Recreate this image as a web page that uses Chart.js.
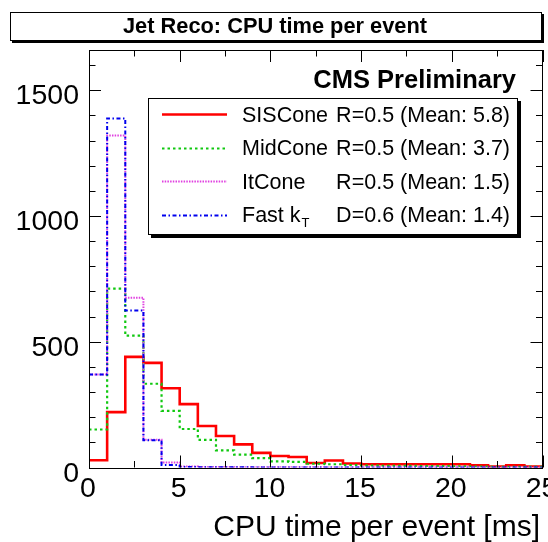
<!DOCTYPE html>
<html>
<head>
<meta charset="utf-8">
<title>Jet Reco: CPU time per event</title>
<script src="https://cdn.jsdelivr.net/npm/chart.js@4/dist/chart.umd.min.js"></script>
<style>
  html, body { margin: 0; padding: 0; background: #ffffff; }
  #wrap { width: 548px; height: 542px; }
</style>
</head>
<body>
<div id="wrap"><canvas id="cpu" width="548" height="542"></canvas></div>
<script>
// Histogram bins: 1 ms wide, lower edges from 0 to 24 ms
const binLowEdges = [0, 1, 2, 3, 4, 5, 6, 7, 8, 9, 10, 11, 12, 13, 14, 15, 16, 17, 18, 19, 20, 21, 22, 23, 24];
const xRange = [0, 25];
const yRange = [0, 1660];

// Entries per bin for each jet algorithm
const sisCone = [29, 220, 440, 416, 315, 252, 165, 125, 92, 58, 46, 42, 18, 28, 16, 13, 13, 13, 13, 13, 13, 9, 4, 9, 4];
const midCone = [151, 711, 524, 333, 225, 153, 110, 68, 51, 37, 24, 22, 15, 13, 10, 8, 7, 7, 6, 6, 5, 4, 3, 3, 3];
const itCone  = [370, 1320, 675, 110, 20, 4, 2, 2, 1, 1, 1, 1, 1, 0, 0, 0, 0, 0, 0, 0, 0, 0, 0, 0, 0];
const fastKt  = [370, 1388, 624, 108, 10, 2, 1, 1, 1, 0, 0, 0, 0, 0, 0, 0, 0, 0, 0, 0, 0, 0, 0, 0, 0];

// Axis tick labels
const xTickLabels = ['0', '5', '10', '15', '20', '25'];
const yTickLabels = ['0', '500', '1000', '1500'];

// Legend text
const algoNames  = ['SISCone', 'MidCone', 'ItCone', 'Fast k'];
const algoParams = ['R=0.5', 'R=0.5', 'R=0.5', 'D=0.6'];
const algoMeans  = ['5.8', '3.7', '1.5', '1.4'];

const titleText = 'Jet Reco: CPU time per event';
const xAxisTitle = 'CPU time per event [ms]';
const stampText = 'CMS Preliminary';

const FONT = "'Liberation Sans', Arial, Helvetica, sans-serif";

const styles = [
  { color: '#ff0000', width: 2.6, dash: [] },
  { color: '#10c810', width: 2.2, dash: [2.5, 3] },
  { color: '#e040e0', width: 2.0, dash: [1.5, 1.2] },
  { color: '#0000ee', width: 2.0, dash: [4, 2.5, 1.5, 2.5] }
];

// Step histogram points: one per lower edge plus the closing upper edge
function histPoints(values) {
  const pts = binLowEdges.map((x, i) => ({ x: x, y: values[i] }));
  pts.push({ x: xRange[1], y: values[values.length - 1] });
  return pts;
}

const seriesList = [sisCone, midCone, itCone, fastKt];

const datasets = seriesList.map((vals, i) => ({
  label: algoNames[i],
  data: histPoints(vals),
  stepped: 'before',
  borderColor: styles[i].color,
  borderWidth: styles[i].width,
  borderDash: styles[i].dash,
  pointRadius: 0,
  fill: false,
  tension: 0,
  order: 3 - i
}));

function shadowBox(ctx, x, y, w, h, off) {
  ctx.save();
  ctx.fillStyle = '#000000';
  ctx.fillRect(x + off, y + off, w, h);
  ctx.fillStyle = '#ffffff';
  ctx.fillRect(x, y, w, h);
  ctx.strokeStyle = '#000000';
  ctx.lineWidth = 1;
  ctx.strokeRect(x + 0.5, y + 0.5, w - 1, h - 1);
  ctx.restore();
}

// Frame, ticks, labels, title pave and legend in ROOT style
const rootDecor = {
  id: 'rootDecor',
  afterDraw(chart) {
    const ctx = chart.ctx;
    const area = chart.chartArea;
    const xs = chart.scales.x;
    const ys = chart.scales.y;

    ctx.save();
    // plot frame
    ctx.strokeStyle = '#000000';
    ctx.lineWidth = 1;
    ctx.strokeRect(Math.round(area.left) + 0.5, Math.round(area.top) + 0.5,
                   Math.round(area.right - area.left) - 1, Math.round(area.bottom - area.top));

    // x ticks every 2.5 ms, long on multiples of 5 (bottom and top)
    ctx.beginPath();
    for (let v = 0; v <= xRange[1] + 1e-6; v += 2.5) {
      const px = Math.round(xs.getPixelForValue(v)) + 0.5;
      const major = Math.abs(v / 5 - Math.round(v / 5)) < 1e-6;
      const len = major ? 12 : 6.5;
      ctx.moveTo(px, area.bottom);
      ctx.lineTo(px, area.bottom - len);
      ctx.moveTo(px, area.top);
      ctx.lineTo(px, area.top + len);
    }
    // y ticks every 100, long on multiples of 500 (left and right)
    for (let v = 0; v <= yRange[1]; v += 100) {
      const py = Math.round(ys.getPixelForValue(v)) + 0.5;
      const len = (v % 500 === 0) ? 12 : 6.5;
      ctx.moveTo(area.left, py);
      ctx.lineTo(area.left + len, py);
      ctx.moveTo(area.right, py);
      ctx.lineTo(area.right - len, py);
    }
    ctx.stroke();

    // tick labels
    ctx.fillStyle = '#000000';
    ctx.font = '28.5px ' + FONT;
    ctx.textAlign = 'right';
    ctx.textBaseline = 'alphabetic';
    yTickLabels.forEach(t => {
      const py = ys.getPixelForValue(Number(t));
      ctx.fillText(t, 79, py + 14);
    });
    ctx.textAlign = 'center';
    xTickLabels.forEach(t => {
      const px = xs.getPixelForValue(Number(t));
      ctx.fillText(t, px - 1, 497);
    });

    // x axis title
    ctx.font = '30px ' + FONT;
    ctx.textAlign = 'right';
    ctx.fillText(xAxisTitle, 540, 536);

    // title pave
    shadowBox(ctx, 10, 12, 532, 29, 2);
    ctx.fillStyle = '#000000';
    ctx.font = 'bold 21.8px ' + FONT;
    ctx.textAlign = 'center';
    ctx.fillText(titleText, 275, 33);

    // experiment stamp
    ctx.font = 'bold 25.5px ' + FONT;
    ctx.textAlign = 'right';
    ctx.fillText(stampText, 516, 88);

    // legend pave
    shadowBox(ctx, 148, 98, 370, 137, 3);
    const baselines = [121.5, 155, 188.5, 222];
    algoNames.forEach((name, i) => {
      const yb = baselines[i];
      const ym = Math.round(yb - 7.5) + 0.5;
      // line sample
      ctx.save();
      ctx.strokeStyle = styles[i].color;
      ctx.lineWidth = styles[i].width;
      ctx.setLineDash(styles[i].dash);
      ctx.beginPath();
      ctx.moveTo(162, ym);
      ctx.lineTo(227, ym);
      ctx.stroke();
      ctx.restore();
      // text
      ctx.fillStyle = '#000000';
      ctx.textAlign = 'left';
      ctx.font = '21.5px ' + FONT;
      ctx.fillText(name, 242, yb);
      if (name === 'Fast k') {
        const w = ctx.measureText(name).width;
        ctx.font = '13px ' + FONT;
        ctx.fillText('T', 242 + w + 1, yb + 5);
        ctx.font = '21.5px ' + FONT;
      }
      ctx.textAlign = 'right';
      ctx.fillText(algoParams[i] + ' (Mean: ' + algoMeans[i] + ')', 510, yb);
    });
    ctx.restore();
  }
};

new Chart(document.getElementById('cpu'), {
  type: 'line',
  data: { datasets: datasets },
  options: {
    responsive: false,
    animation: false,
    devicePixelRatio: 1,
    layout: { padding: { left: 89, right: 5.5, top: 50, bottom: 74.5 } },
    plugins: {
      legend: { display: false },
      tooltip: { enabled: false },
      title: { display: false }
    },
    scales: {
      x: { type: 'linear', min: xRange[0], max: xRange[1], display: false },
      y: { type: 'linear', min: yRange[0], max: yRange[1], display: false }
    }
  },
  plugins: [rootDecor]
});
</script>
</body>
</html>
